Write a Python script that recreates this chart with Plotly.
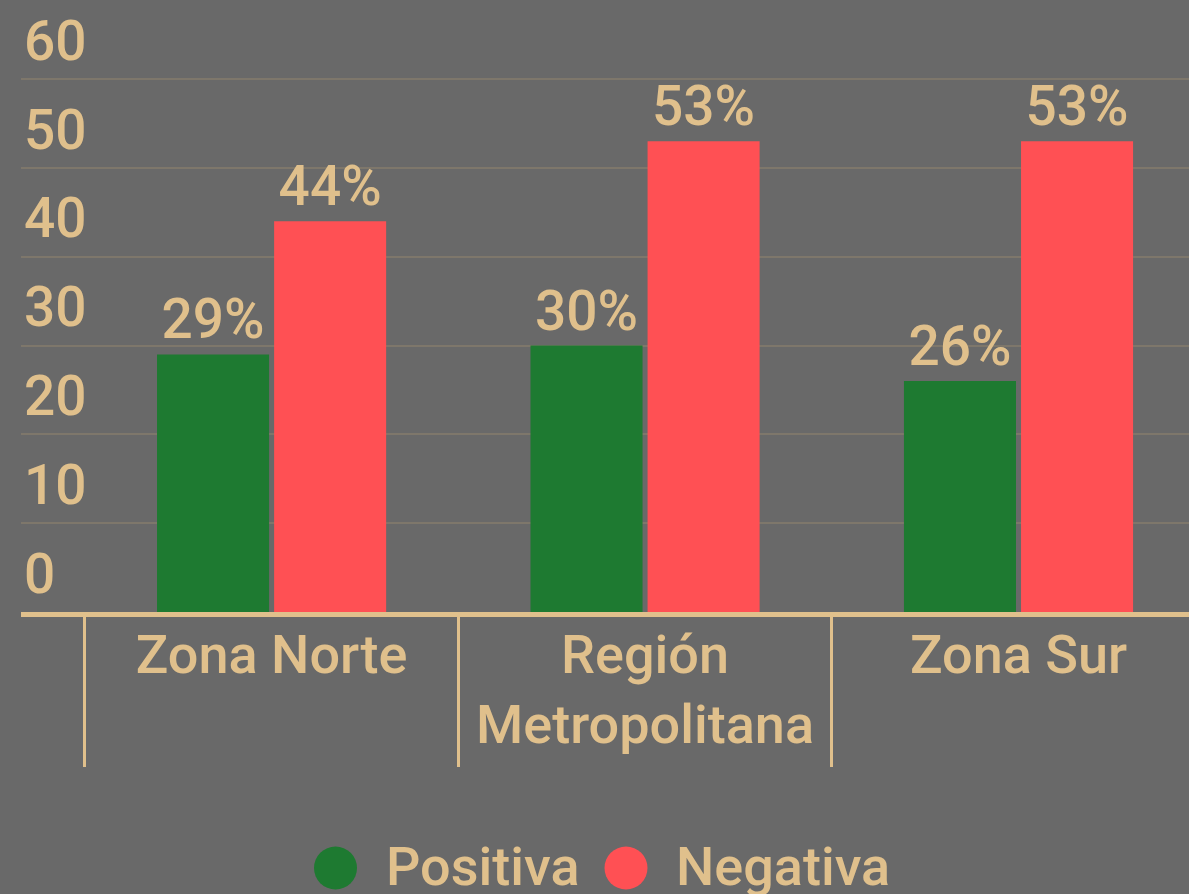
import plotly.graph_objects as go

categories = ["Zona Norte", "Región<br>Metropolitana", "Zona Sur"]
positiva = [29, 30, 26]
negativa = [44, 53, 53]
series_names = ["Positiva", "Negativa"]
y_ticks = [0, 10, 20, 30, 40, 50, 60]

TAN = "#e0c08c"
GREEN = "#1e7a31"
RED = "#ff5054"
BG = "#696969"
GRID = "#7e776b"
FONT = "Roboto"
WEIGHT = 500

fig = go.Figure()
for name, vals, col in [(series_names[0], positiva, GREEN), (series_names[1], negativa, RED)]:
    fig.add_trace(go.Bar(
        x=categories, y=vals, name=name, marker=dict(color=col, line=dict(width=0)),
        text=[f"{v}%" for v in vals], textposition="outside", constraintext="none",
        textfont=dict(family=FONT, size=55, color=TAN, weight=WEIGHT), cliponaxis=False,
        showlegend=False, hoverinfo="skip",
    ))

W, H = 1189, 894
ML, MR, MT, MB = 21, 0, 0, 282
pw, ph = W - ML - MR, H - MT - MB

def px_to_paper(x, y):
    return (x - ML) / pw, (H - MB - y) / ph

annotations = []
shapes = []
legend_items = [(series_names[0], GREEN, 335.5, 388), (series_names[1], RED, 626, 678)]
for name, col, cx, tx in legend_items:
    px, py = px_to_paper(cx, 868)
    shapes.append(dict(type="circle", xref="paper", yref="paper", xsizemode="pixel", ysizemode="pixel",
                       xanchor=px, yanchor=py, x0=-21.5, x1=21.5, y0=-21.5, y1=21.5,
                       fillcolor=col, line=dict(width=0)))
    ax, ay = px_to_paper(tx - 4, 866)
    annotations.append(dict(text=name, xref="paper", yref="paper", x=ax, y=ay, xanchor="left", yanchor="middle",
                            showarrow=False, font=dict(family=FONT, size=54, color=TAN, weight=WEIGHT)))

fig.update_layout(
    width=W, height=H,
    margin=dict(l=ML, r=MR, t=MT, b=MB, pad=0),
    paper_bgcolor=BG, plot_bgcolor=BG,
    barmode="group", bargap=0.373, bargroupgap=0.043,
    font=dict(family=FONT, color=TAN, size=53, weight=WEIGHT),
    annotations=annotations, shapes=shapes,
    showlegend=False,
)
fig.update_xaxes(
    type="category", range=[-0.671, 2.4565],
    showline=True, linecolor=TAN, linewidth=5,
    ticks="outside", tickson="boundaries", ticklen=150, tickwidth=3, tickcolor=TAN,
    ticklabelstandoff=-9,
    tickfont=dict(family=FONT, size=54, color=TAN, weight=WEIGHT), showgrid=False,
)
fig.update_yaxes(
    range=[0, 68.9], tickvals=y_ticks, ticklabelposition="inside top", ticklabeloverflow="allow",
    showgrid=True, gridcolor=GRID, gridwidth=2, zeroline=False, showline=False,
    tickfont=dict(family=FONT, size=55, color=TAN, weight=WEIGHT),
)
fig.write_html("out.html", config={"displayModeBar": False},
               post_script="document.body.style.margin='0';document.body.style.overflow='hidden';")
